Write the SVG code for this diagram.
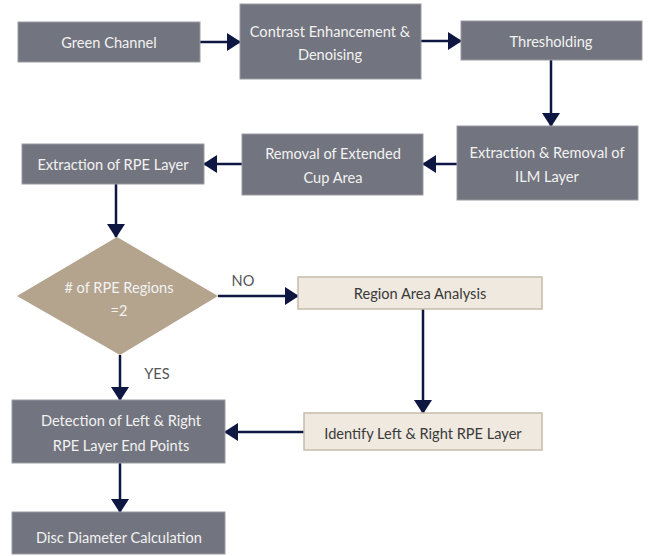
<svg xmlns="http://www.w3.org/2000/svg" width="648" height="556" viewBox="0 0 648 556">
<style>
.g{fill:#72757f;stroke:#9a9ca3;stroke-width:1}
.b{fill:#efe9df;stroke:#c5bcab;stroke-width:1.5}
.d{fill:#b4a48e}
text{font-family:Lato,"Open Sans","Liberation Sans",sans-serif;font-size:14.6px;text-anchor:middle;dominant-baseline:central}
.w{fill:#f2f2f2}
.k{fill:#3a3a3a}
.l{fill:#555}
.c{stroke:#0e1642;stroke-width:2.5;fill:none;marker-end:url(#ah)}
</style>
<defs>
<marker id="ah" markerUnits="userSpaceOnUse" markerWidth="14" markerHeight="18" viewBox="0 0 14 18" refX="13" refY="9" orient="auto">
<path d="M0,0 L14,9 L0,18 Z" fill="#0e1642"/>
</marker>
</defs>
<rect width="648" height="556" fill="#fff"/>
<g id="connectors">
<line class="c" x1="200" y1="42" x2="240" y2="42"/>
<line class="c" x1="421" y1="41" x2="461" y2="41"/>
<line class="c" x1="551" y1="60" x2="551" y2="126"/>
<line class="c" x1="457" y1="164" x2="423" y2="164"/>
<line class="c" x1="242" y1="164" x2="204" y2="164"/>
<line class="c" x1="116" y1="184" x2="116" y2="237"/>
<line class="c" x1="218" y1="296" x2="298" y2="296"/>
<line class="c" x1="423" y1="309" x2="423" y2="413"/>
<line class="c" x1="304" y1="432" x2="225" y2="432"/>
<line class="c" x1="120" y1="355" x2="120" y2="400"/>
<line class="c" x1="120" y1="463" x2="120" y2="512"/>
<text class="l" x="243" y="280">NO</text>
<text class="l" x="157" y="373">YES</text>
</g>
<g id="green"><rect class="g" x="18" y="22" width="182" height="40"/><text class="w" x="109" y="42">Green Channel</text></g>
<g id="contrast"><rect class="g" x="240" y="4" width="181" height="75"/><text class="w" x="330" y="31">Contrast Enhancement &amp;</text><text class="w" x="330" y="54">Denoising</text></g>
<g id="threshold"><rect class="g" x="461" y="21" width="181" height="39"/><text class="w" x="551" y="41">Thresholding</text></g>
<g id="ilm"><rect class="g" x="457" y="126" width="181" height="74"/><text class="w" x="547" y="152">Extraction &amp; Removal of</text><text class="w" x="547" y="176">ILM Layer</text></g>
<g id="cup"><rect class="g" x="242" y="134" width="181" height="61"/><text class="w" x="333" y="153">Removal of Extended</text><text class="w" x="333" y="177">Cup Area</text></g>
<g id="rpe"><rect class="g" x="22" y="144" width="182" height="40"/><text class="w" x="113" y="164">Extraction of RPE Layer</text></g>
<g id="decision"><polygon class="d" points="117,237 218,296 120,355 17,296"/><text class="w" x="119" y="287"># of RPE Regions</text><text class="w" x="119" y="310">=2</text></g>
<g id="area"><rect class="b" x="298" y="277" width="244" height="32"/><text class="k" x="420" y="293">Region Area Analysis</text></g>
<g id="identify"><rect class="b" x="304" y="413" width="238" height="37"/><text class="k" x="423" y="433">Identify Left &amp; Right RPE Layer</text></g>
<g id="detect"><rect class="g" x="12" y="400" width="213" height="63"/><text class="w" x="121" y="420">Detection of Left &amp; Right</text><text class="w" x="121" y="445">RPE Layer End Points</text></g>
<g id="disc"><rect class="g" x="12" y="512" width="213" height="42"/><text class="w" x="119" y="537">Disc Diameter Calculation</text></g>
</svg>
